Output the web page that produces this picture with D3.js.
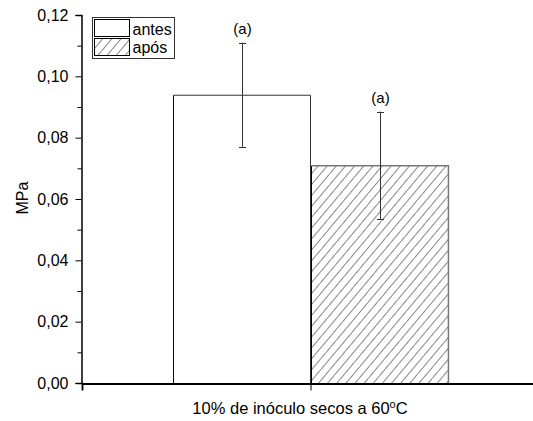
<!DOCTYPE html>
<html>
<head>
<meta charset="utf-8">
<script src="https://d3js.org/d3.v7.min.js"></script>
<style>
  body { margin: 0; background: #fff; }
  text { font-family: Arial, "Liberation Sans", sans-serif; }
</style>
</head>
<body>
<div id="my_dataviz"></div>
<script>

// data
var groups = ["10% de inóculo secos a 60ºC"];
var series = ["antes", "após"];
var means = [0.094, 0.071];
var errors = [0.017, 0.0175];
var letters = ["(a)", "(a)"];
var yTicks = [0, 0.02, 0.04, 0.06, 0.08, 0.10, 0.12];
var yMinor = [0.01, 0.03, 0.05, 0.07, 0.09, 0.11];

var W = 533, H = 421;
var margin = {top: 15, left: 82, bottom: 38};
var plotBottom = H - margin.bottom;

var svg = d3.select("#my_dataviz")
  .append("svg")
  .attr("width", W)
  .attr("height", H);

// hatch pattern for the second bar
var defs = svg.append("defs");
defs.append("pattern")
  .attr("id", "hatch")
  .attr("patternUnits", "userSpaceOnUse")
  .attr("width", 7)
  .attr("height", 7)
  .attr("patternTransform", "rotate(40)")
  .append("line")
  .attr("x1", 0).attr("y1", -1)
  .attr("x2", 0).attr("y2", 8)
  .attr("stroke", "#111")
  .attr("stroke-width", 1);

// scales
var y = d3.scaleLinear()
  .domain([0, 0.12])
  .range([plotBottom, margin.top]);

var x = d3.scaleBand()
  .domain(groups)
  .range([margin.left, 540]);

var xs = d3.scaleBand()
  .domain(series)
  .range([0, x.bandwidth()])
  .paddingInner(0)
  .paddingOuter(0.66);

var fmt = function(d) { return d3.format(".2f")(d).replace(".", ","); };

// bars
var g = svg.append("g").attr("transform", "translate(" + x(groups[0]) + ",0)");

series.forEach(function(s, i) {
  var x0 = xs(s), w = xs.bandwidth();
  g.append("rect")
    .attr("x", x0)
    .attr("y", y(means[i]))
    .attr("width", w)
    .attr("height", y(0) - y(means[i]))
    .attr("fill", i == 0 ? "#fff" : "url(#hatch)")
    .attr("stroke", "none");
  // outline: left black, top and right grey
  g.append("path")
    .attr("d", "M" + (x0 + 0.5) + "," + y(0) + "V" + (y(means[i]) + 0.5))
    .attr("stroke", "#000").attr("fill", "none");
  g.append("path")
    .attr("d", "M" + (x0 + 0.5) + "," + (y(means[i]) + 0.5) + "H" + (x0 + w - 0.5) + "V" + y(0))
    .attr("stroke", i == 0 ? "#333" : "#777").attr("stroke-width", i == 0 ? 1 : 1.5).attr("fill", "none");

  // error bars
  var cx = Math.round(x0 + w / 2) + 0.5;
  var lo = y(means[i] - errors[i]), hi = y(means[i] + errors[i]);
  g.append("line").attr("x1", cx).attr("x2", cx).attr("y1", lo).attr("y2", hi)
    .attr("stroke", "#333");
  g.append("line").attr("x1", cx - 3.5).attr("x2", cx + 3.5).attr("y1", Math.round(hi) + 0.5).attr("y2", Math.round(hi) + 0.5)
    .attr("stroke", "#333");
  g.append("line").attr("x1", cx - 3.5).attr("x2", cx + 3.5).attr("y1", Math.round(lo) + 0.5).attr("y2", Math.round(lo) + 0.5)
    .attr("stroke", "#333");
  g.append("text")
    .attr("x", cx)
    .attr("y", hi - 9)
    .attr("text-anchor", "middle")
    .style("font-size", "15px")
    .text(letters[i]);
});

// Y axis
var yAxis = svg.append("g")
  .attr("transform", "translate(" + (margin.left - 0.5) + ",0)")
  .call(d3.axisLeft(y).tickValues(yTicks).tickFormat(fmt).tickSize(6).tickPadding(7));
yAxis.select(".domain").attr("stroke-width", 1.5);
yAxis.selectAll("text").style("font-size", "16px").style("font-family", "Arial, 'Liberation Sans', sans-serif");
svg.append("g")
  .attr("transform", "translate(" + (margin.left - 0.5) + ",0)")
  .call(d3.axisLeft(y).tickValues(yMinor).tickFormat("").tickSize(4))
  .select(".domain").remove();

// X axis
var xAxis = svg.append("g")
  .attr("transform", "translate(0," + (plotBottom + 0.5) + ")")
  .call(d3.axisBottom(x).tickSize(7).tickFormat(""));
xAxis.select(".domain").attr("stroke-width", 1.8);

// x label with superscript o
var xl = svg.append("text")
  .attr("x", x(groups[0]) + x.bandwidth() / 2 - 11)
  .attr("y", 414)
  .attr("text-anchor", "middle")
  .style("font-size", "16.5px");
xl.append("tspan").text("10% de inóculo secos a 60");
xl.append("tspan").attr("dy", -6).style("font-size", "11px").text("o");
xl.append("tspan").attr("dy", 6).text("C");

// y label
svg.append("text")
  .attr("transform", "translate(28," + ((plotBottom + margin.top) / 2 - 1) + ") rotate(-90)")
  .attr("text-anchor", "middle")
  .style("font-size", "16px")
  .text("MPa");

// legend
var lg = svg.append("g").attr("transform", "translate(92.5,17.5)");
lg.append("rect").attr("width", 82).attr("height", 41)
  .attr("fill", "#fff").attr("stroke", "#333");
series.forEach(function(s, i) {
  lg.append("rect")
    .attr("x", 2).attr("y", 2 + i * 19)
    .attr("width", 35).attr("height", 17)
    .attr("fill", i == 0 ? "#fff" : "url(#hatch)")
    .attr("stroke", "#000");
  lg.append("text")
    .attr("x", 40).attr("y", 17 + i * 18)
    .style("font-size", "16px")
    .text(s);
});

</script>
</body>
</html>
